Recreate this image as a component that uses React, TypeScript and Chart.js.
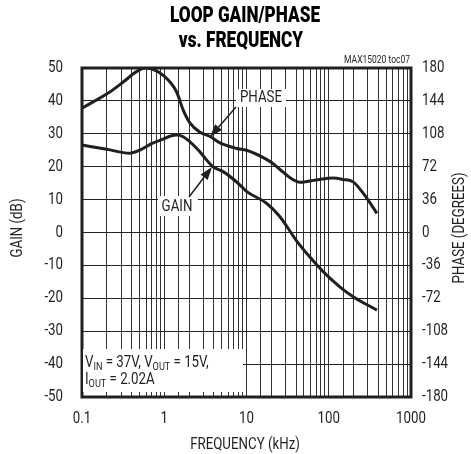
import React, { useEffect, useRef } from "react";
import { Chart, registerables } from "chart.js";

Chart.register(...registerables);

const gainFreq = [0.1, 0.2, 0.38, 0.5, 0.7, 0.9, 1.4, 1.7, 2.5, 3.9, 5.2, 8.3, 10, 17.5, 25.5, 40, 58.6, 85.5, 136, 198, 385];
const gainDb = [26.6, 25.3, 24.1, 25.0, 27.0, 28.1, 29.6, 29.1, 25.5, 20.0, 18.5, 14.5, 12.5, 8.9, 4.8, -2.3, -7.4, -11.9, -16.5, -19.5, -23.6];

const phaseFreq = [0.1, 0.22, 0.32, 0.46, 0.58, 0.7, 0.97, 1.41, 1.7, 2.05, 2.7, 3.6, 4.75, 7.6, 10, 17.5, 22, 27.9, 35, 44.6, 70, 113, 150, 198, 262, 385];
const phaseDeg = [136, 154, 165, 176, 180, 179, 172, 154, 134, 120, 110, 105, 98, 92, 90, 80, 74, 66, 59, 55, 57.5, 59.5, 58, 55.4, 43, 21];

const xDecadeLabels = ["0.1", "1", "10", "100", "1000"];
const titleLines = ["LOOP GAIN/PHASE", "vs. FREQUENCY"];
const xTitle = "FREQUENCY (kHz)";
const yTitle = "GAIN (dB)";
const y2Title = "PHASE (DEGREES)";
const docId = "MAX15020 toc07";

const FONT = "Roboto, 'Liberation Sans', sans-serif";
const INK = "#231f20";
const SX = 0.83;

function txt(
  ctx: CanvasRenderingContext2D,
  s: string,
  x: number,
  y: number,
  font: string,
  align: CanvasTextAlign,
  baseline: CanvasTextBaseline = "middle",
  sx: number = SX,
  rot: number = 0
) {
  ctx.save();
  ctx.translate(x, y);
  if (rot) ctx.rotate(rot);
  ctx.scale(sx, 1);
  ctx.font = font;
  ctx.textAlign = align;
  ctx.textBaseline = baseline;
  ctx.fillText(s, 0, 0);
  ctx.restore();
}

function drawArrow(ctx: CanvasRenderingContext2D, x1: number, y1: number, x2: number, y2: number) {
  const ang = Math.atan2(y2 - y1, x2 - x1);
  const len = 13;
  const half = 4.5;
  const bx = x2 - len * Math.cos(ang);
  const by = y2 - len * Math.sin(ang);
  ctx.save();
  ctx.strokeStyle = INK;
  ctx.fillStyle = INK;
  ctx.lineWidth = 1.5;
  ctx.beginPath();
  ctx.moveTo(x1, y1);
  ctx.lineTo(bx, by);
  ctx.stroke();
  ctx.beginPath();
  ctx.moveTo(x2, y2);
  ctx.lineTo(bx + half * Math.sin(ang), by - half * Math.cos(ang));
  ctx.lineTo(bx - half * Math.sin(ang), by + half * Math.cos(ang));
  ctx.closePath();
  ctx.fill();
  ctx.restore();
}

function drawRuns(ctx: CanvasRenderingContext2D, x: number, y: number, runs: [string, boolean][]) {
  let cx = x;
  for (const [t, sub] of runs) {
    const font = sub ? `11px ${FONT}` : `16px ${FONT}`;
    ctx.font = font;
    const w = ctx.measureText(t).width * SX;
    txt(ctx, t, cx, sub ? y + 3 : y, font, "left", "alphabetic");
    cx += w;
  }
}

const annotPlugin = {
  id: "annot",
  afterDraw(chart: any) {
    const ctx: CanvasRenderingContext2D = chart.ctx;
    const a = chart.chartArea;
    const tickFont = `16px ${FONT}`;
    ctx.save();
    // plot border
    ctx.strokeStyle = INK;
    ctx.lineWidth = 3;
    ctx.strokeRect(a.left, a.top, a.right - a.left, a.bottom - a.top);

    ctx.fillStyle = INK;
    // tick labels from scales
    const sy = chart.scales.y;
    for (const t of sy.ticks) {
      txt(ctx, String(t.value), 63, sy.getPixelForValue(t.value), tickFont, "right");
    }
    const sy2 = chart.scales.y2;
    for (const t of sy2.ticks) {
      txt(ctx, String(Math.round(t.value)), 422, sy2.getPixelForValue(t.value), tickFont, "left");
    }
    const sxs = chart.scales.x;
    for (const t of sxs.ticks) {
      const l = Math.log10(t.value);
      if (Math.abs(l - Math.round(l)) < 1e-6) {
        const lab = xDecadeLabels[Math.round(l) + 1];
        if (lab) txt(ctx, lab, sxs.getPixelForValue(t.value), 419, tickFont, "center");
      }
    }

    // title
    ctx.fillStyle = "#000";
    txt(ctx, titleLines[0], 245, 16, `900 22px ${FONT}`, "center", "middle", 0.78);
    txt(ctx, titleLines[1], 241, 41, `900 22px ${FONT}`, "center", "middle", 0.78);

    // doc id
    ctx.fillStyle = INK;
    txt(ctx, docId, 410, 63, `10px ${FONT}`, "right", "alphabetic", 0.85);

    // axis titles
    txt(ctx, xTitle, 245, 445, tickFont, "center");
    txt(ctx, yTitle, 18, 228, tickFont, "center", "middle", SX, -Math.PI / 2);
    txt(ctx, y2Title, 460, 228, tickFont, "center", "middle", SX, -Math.PI / 2);

    // PHASE label
    ctx.fillStyle = "#fff";
    ctx.fillRect(236, 89, 50, 18);
    ctx.fillStyle = INK;
    txt(ctx, "PHASE", 261, 98, tickFont, "center");
    drawArrow(ctx, 236, 107, 210, 137);

    // GAIN label
    ctx.fillStyle = "#fff";
    ctx.fillRect(158, 196, 40, 20);
    ctx.fillStyle = INK;
    txt(ctx, "GAIN", 177, 207, tickFont, "center");
    drawArrow(ctx, 189, 197, 212, 167);

    // conditions box
    ctx.fillStyle = "#fff";
    ctx.fillRect(83, 349, 160, 43);
    ctx.fillStyle = INK;
    drawRuns(ctx, 85, 367, [["V", false], ["IN", true], [" = 37V, V", false], ["OUT", true], [" = 15V,", false]]);
    drawRuns(ctx, 85, 384, [["I", false], ["OUT", true], [" = 2.02A", false]]);
    ctx.restore();
  },
};

export default function App() {
  const ref = useRef<HTMLCanvasElement>(null);
  useEffect(() => {
    if (!ref.current) return;
    const chart = new Chart(ref.current, {
      type: "line",
      data: {
        datasets: [
          {
            label: "GAIN",
            data: gainFreq.map((f, i) => ({ x: f, y: gainDb[i] })),
            yAxisID: "y",
            borderColor: INK,
            borderWidth: 3,
            pointRadius: 0,
            cubicInterpolationMode: "monotone",
          },
          {
            label: "PHASE",
            data: phaseFreq.map((f, i) => ({ x: f, y: phaseDeg[i] })),
            yAxisID: "y2",
            borderColor: INK,
            borderWidth: 3,
            pointRadius: 0,
            cubicInterpolationMode: "monotone",
          },
        ],
      },
      options: {
        animation: false,
        responsive: false,
        maintainAspectRatio: false,
        layout: { padding: { top: 68, left: 0, right: 0, bottom: 0 } },
        plugins: { legend: { display: false }, tooltip: { enabled: false }, title: { display: false } },
        scales: {
          x: {
            type: "logarithmic",
            min: 0.1,
            max: 1000,
            grid: { color: "#333", lineWidth: 1, drawTicks: false },
            border: { display: false },
            ticks: { autoSkip: false, display: false, maxRotation: 0 },
            afterFit: (s: any) => {
              s.height = 57;
            },
          },
          y: {
            position: "left",
            min: -50,
            max: 50,
            grid: { color: "#222", lineWidth: 1, drawTicks: false },
            border: { display: false },
            ticks: { stepSize: 10, display: false },
            afterFit: (s: any) => {
              s.width = 82;
            },
          },
          y2: {
            position: "right",
            min: -180,
            max: 180,
            grid: { display: false, drawTicks: false },
            border: { display: false },
            ticks: { stepSize: 36, display: false },
            afterFit: (s: any) => {
              s.width = 60;
            },
          },
        },
      },
      plugins: [annotPlugin],
    } as any);
    return () => chart.destroy();
  }, []);
  return (
    <div style={{ position: "absolute", left: 0, top: 0, width: 471, height: 454, background: "#fff" }}>
      <canvas ref={ref} width={471} height={454} style={{ display: "block" }} />
    </div>
  );
}
